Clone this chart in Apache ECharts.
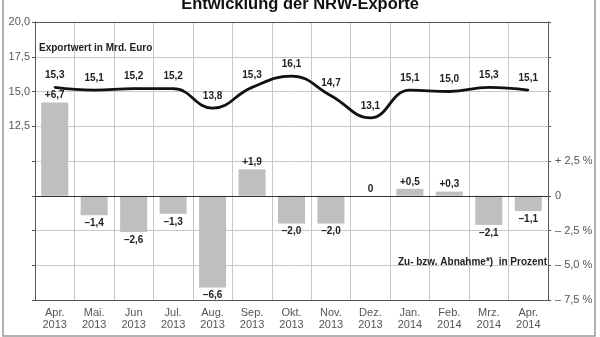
<!DOCTYPE html>
<html>
<head>
<meta charset="utf-8">
<script src="https://cdn.jsdelivr.net/npm/echarts@6/dist/echarts.min.js"></script>
<style>html,body{margin:0;padding:0;background:#fff}#c{width:600px;height:337px}</style>
</head>
<body>
<div id="c"></div>
<script>
const categories = ['Apr.\n2013','Mai.\n2013','Jun\n2013','Jul.\n2013','Aug.\n2013','Sep.\n2013','Okt.\n2013','Nov.\n2013','Dez.\n2013','Jan.\n2014','Feb.\n2014','Mrz.\n2014','Apr.\n2014'];
const exportValues = [15.3, 15.1, 15.2, 15.2, 13.8, 15.3, 16.1, 14.7, 13.1, 15.1, 15.0, 15.3, 15.1];
const changePercent = [6.7, -1.4, -2.6, -1.3, -6.6, 1.9, -2.0, -2.0, 0, 0.5, 0.3, -2.1, -1.1];
const leftTickLabels = [12.5, 15.0, 17.5, 20.0];
const rightTickLabels = [-7.5, -5.0, -2.5, 0, 2.5];
const titleText = 'Entwicklung der NRW-Exporte';
const exportLegend = 'Exportwert in Mrd. Euro';
const changeLegend = 'Zu- bzw. Abnahme*)  in Prozent';

const FONT = '"Liberation Sans", Arial, sans-serif';
const GRID = '#c8c8c8';
const de = v => Math.abs(v).toFixed(1).replace('.', ',');

const chart = echarts.init(document.getElementById('c'));
chart.setOption({
  backgroundColor: '#fff',
  animation: false,
  title: {
    text: titleText, left: 'center', top: -9,
    textStyle: {fontFamily: FONT, fontSize: 16.5, fontWeight: 'bold', color: '#111'}
  },
  grid: {left: 35, right: 52, top: 22, bottom: 37},
  xAxis: [
    {
      type: 'category', data: categories, boundaryGap: true,
      position: 'bottom',
      axisLine: {show: true, onZero: false, lineStyle: {color: '#555', width: 1}},
      axisTick: {show: false},
      axisLabel: {interval: 0, margin: 7, color: '#555', fontFamily: FONT, fontSize: 11, lineHeight: 12},
      splitLine: {show: true, interval: 0, lineStyle: {color: GRID, width: 1}}
    },
    {
      type: 'category', data: categories, boundaryGap: true,
      position: 'top',
      axisLine: {show: true, onZero: false, lineStyle: {color: '#555', width: 1}},
      axisTick: {show: false}, axisLabel: {show: false}, splitLine: {show: false}
    }
  ],
  yAxis: [
    {
      type: 'value', min: 0, max: 20, interval: 2.5, position: 'left',
      axisLine: {show: true, lineStyle: {color: '#555'}},
      axisTick: {show: true, length: 3, lineStyle: {color: '#555'}},
      axisLabel: {
        color: '#555', fontFamily: FONT, fontSize: 11, margin: 5,
        formatter: v => leftTickLabels.some(t => Math.abs(t - v) < 1e-6) ? v.toFixed(1).replace('.', ',') : ''
      },
      splitLine: {show: true, lineStyle: {color: GRID, width: 1}}
    },
    {
      type: 'value', min: -7.5, max: 12.5, interval: 2.5, position: 'right',
      axisLine: {show: true, lineStyle: {color: '#555'}},
      axisTick: {show: true, length: 3, lineStyle: {color: '#555'}},
      axisLabel: {
        color: '#555', fontFamily: FONT, fontSize: 11, margin: 7,
        formatter: v => {
          if (!rightTickLabels.some(t => Math.abs(t - v) < 1e-6)) return '';
          if (v === 0) return '0';
          return (v > 0 ? '+ ' : '\u2013 ') + de(v) + ' %';
        }
      },
      splitLine: {show: false}
    }
  ],
  graphic: [
    {type: 'rect', z: -1, silent: true, shape: {x: 3, y: -10, width: 592, height: 346}, style: {fill: 'none', stroke: '#999', lineWidth: 1.5}},
    {type: 'text', z: 50, x: 39, y: 43, style: {text: exportLegend, font: 'bold 10px ' + FONT, fill: '#222', align: 'left', verticalAlign: 'top'}},
    {type: 'text', z: 50, x: 547, y: 257, style: {text: changeLegend, font: 'bold 10px ' + FONT, fill: '#222', align: 'right', verticalAlign: 'top'}}
  ],
  series: [
    {
      type: 'bar', yAxisIndex: 1, barWidth: 27,
      data: changePercent.map(v => ({
        value: v,
        label: {position: v < 0 ? 'bottom' : 'top', distance: v < 0 ? 3 : 2}
      })),
      itemStyle: {color: '#bfbfbf'},
      label: {
        show: true, fontFamily: FONT, fontSize: 10, fontWeight: 'bold', color: '#222',
        formatter: p => p.value > 0 ? '+' + de(p.value) : (p.value < 0 ? '\u2013' + de(p.value) : '0')
      },
      markLine: {
        silent: true, symbol: 'none', label: {show: false},
        lineStyle: {color: '#333', width: 1, type: 'solid'},
        data: [{yAxis: 0}]
      },
      z: 2
    },
    {
      type: 'line', yAxisIndex: 0, data: exportValues, smooth: 0.45,
      symbol: 'circle', symbolSize: 2, showSymbol: true,
      itemStyle: {color: '#111'},
      lineStyle: {color: '#111', width: 2.8},
      label: {
        show: true, position: 'top', distance: 6, fontFamily: FONT, fontSize: 10, fontWeight: 'bold', color: '#222',
        formatter: p => de(p.value)
      },
      z: 3
    }
  ]
});
</script>
</body>
</html>
